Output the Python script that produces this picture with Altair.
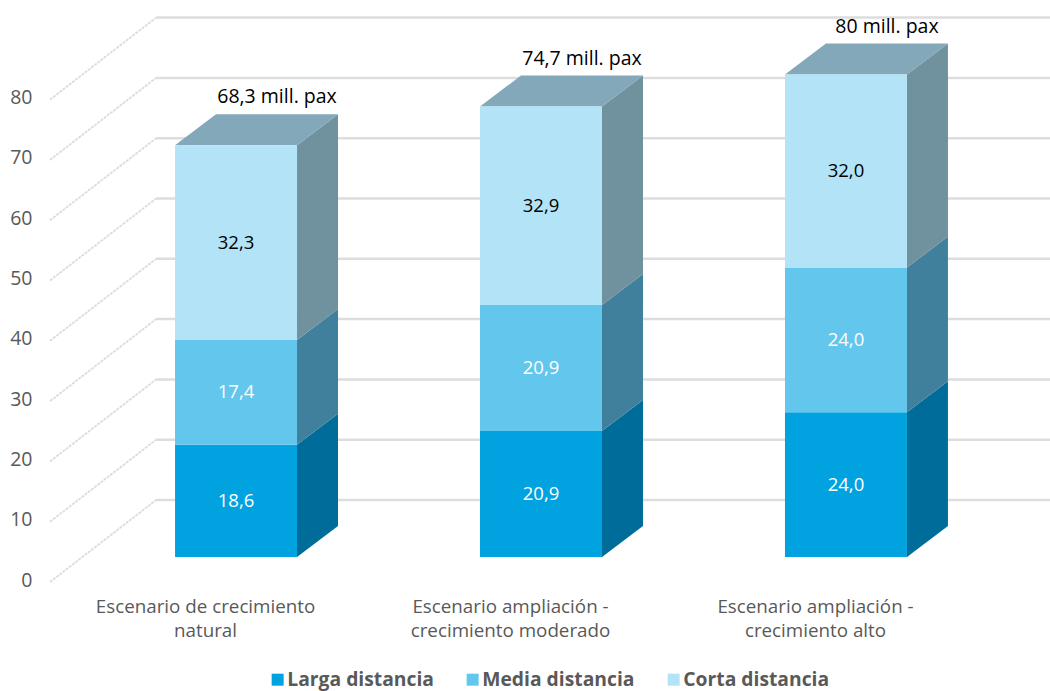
import json
import altair as alt
import pandas as pd

# Pasajeros por escenario (millones)
scenarios = [
    ["Escenario de crecimiento", "natural"],
    ["Escenario ampliación -", "crecimiento moderado"],
    ["Escenario ampliación -", "crecimiento alto"],
]
segments = ["Larga distancia", "Media distancia", "Corta distancia"]
larga = [18.6, 20.9, 24.0]
media = [17.4, 20.9, 24.0]
corta = [32.3, 32.9, 32.0]
total_labels = ["68,3 mill. pax", "74,7 mill. pax", "80 mill. pax"]
y_ticks = [0, 10, 20, 30, 40, 50, 60, 70, 80]

front_colors = ["#00a3df", "#63c6ec", "#b2e3f7"]
side_colors = ["#006c99", "#40809d", "#6f929e"]
top_color = "#82a8b9"
text_colors = ["#ffffff", "#ffffff", "#000000"]
FONT = "Open Sans"
GREY = "#595959"

# Pseudo-3D geometry, in data units
HALF = 0.2          # half a bar's width
DX = 0.1344         # bar depth along x
DY = 5.14           # bar depth along y
WALL_X = -0.262     # x of the back wall
WALL_Y = 9.45       # rise of the floor line at the back wall
EDGE_Y = -4.15      # drop of the floor line at the front edge
X_MIN, X_MAX = -0.61, 2.669
Y_MIN, Y_MAX = -7.13, 92.37

x_scale = alt.Scale(domain=[X_MIN, X_MAX], nice=False, zero=False)
y_scale = alt.Scale(domain=[Y_MIN, Y_MAX], nice=False, zero=False)
X = lambda f: alt.X(f, type="quantitative", scale=x_scale, title=None)
Y = lambda f: alt.Y(f, type="quantitative", scale=y_scale, title=None)

fronts, sides, tops, labels, totals = [], [], [], [], []
for i in range(3):
    base = 0.0
    for seg, vals in zip(segments, [larga, media, corta]):
        v = vals[i]
        fronts.append(dict(s=i, seg=seg, x0=i - HALF, x1=i + HALF, y0=base, y1=base + v))
        sides.append(dict(s=i, seg=seg, x=i + HALF, lo=base, hi=base + v))
        sides.append(dict(s=i, seg=seg, x=i + HALF + DX, lo=base + DY, hi=base + v + DY))
        labels.append(dict(seg=seg, x=i, y=base + v / 2, t=f"{v:.1f}".replace(".", ",")))
        base += v
    tops.append(dict(s=i, y=base, x0=i - HALF, x1=i + HALF))
    tops.append(dict(s=i, y=base + DY, x0=i - HALF + DX, x1=i + HALF + DX))
    totals.append(dict(x=i + DX, y=base + DY + 2.8, t=total_labels[i]))

grid = pd.DataFrame(
    [dict(v=t, back=t + WALL_Y, edge=t + EDGE_Y, x0=X_MIN, xw=WALL_X, x1=X_MAX) for t in y_ticks]
)

axis_layer = (
    alt.Chart(pd.DataFrame({"x": [0, 1, 2], "y": [0, 0, 0]}))
    .mark_point(opacity=0)
    .encode(
        x=alt.X(
            "x:Q",
            scale=x_scale,
            title=None,
            axis=alt.Axis(
                values=[0, 1, 2],
                grid=False,
                domain=False,
                ticks=False,
                labelExpr=f"{json.dumps(scenarios, ensure_ascii=False)}[datum.value]",
                labelFont=FONT,
                labelFontSize=18.8,
                labelColor=GREY,
                labelOffset=-31,
                labelPadding=-3,
                labelLineHeight=24,
                labelLimit=0,
                labelFlush=False,
                labelOverlap=False,
            ),
        ),
        y=alt.Y(
            "y:Q",
            scale=y_scale,
            title=None,
            axis=alt.Axis(
                values=y_ticks,
                grid=False,
                domain=False,
                ticks=False,
                labelFont=FONT,
                labelFontSize=19.5,
                labelColor=GREY,
                labelOffset=23,
                labelPadding=18,
            ),
        ),
    )
)

wall_lines = (
    alt.Chart(grid)
    .mark_rule(color="#dddddd", strokeWidth=2.5)
    .encode(x=X("xw"), x2="x1:Q", y=Y("back"))
)
floor_lines = (
    alt.Chart(grid)
    .mark_rule(color="#dcdcdc", strokeWidth=1.8, strokeDash=[3, 1])
    .encode(x=X("x0"), x2="xw:Q", y=Y("edge"), y2="back:Q")
)

side_df = pd.DataFrame(sides)
side_layers = [
    alt.Chart(side_df[side_df.seg == seg])
    .mark_area(color=col, opacity=1)
    .encode(x=X("x"), y=Y("lo"), y2="hi:Q", detail="s:N")
    for seg, col in zip(segments, side_colors)
]

top_layer = (
    alt.Chart(pd.DataFrame(tops))
    .mark_area(color=top_color, opacity=1, orient="horizontal")
    .encode(y=Y("y"), x=X("x0"), x2="x1:Q", detail="s:N")
)

front_layer = (
    alt.Chart(pd.DataFrame(fronts))
    .mark_rect()
    .encode(
        x=X("x0"),
        x2="x1:Q",
        y=Y("y0"),
        y2="y1:Q",
        color=alt.Color(
            "seg:N",
            scale=alt.Scale(domain=segments, range=front_colors),
            legend=alt.Legend(
                orient="none",
                legendX=218,
                legendY=670,
                direction="horizontal",
                title=None,
                symbolType="square",
                symbolSize=144,
                symbolStrokeWidth=0,
                labelFont=FONT,
                labelFontWeight="bold",
                labelFontSize=19.3,
                labelColor=GREY,
                labelOffset=0,
                labelLimit=0,
                columnPadding=29,
            ),
        ),
    )
)

label_df = pd.DataFrame(labels)
value_layers = [
    alt.Chart(label_df[label_df.seg == seg])
    .mark_text(font=FONT, fontSize=18.5, color=col)
    .encode(x=X("x"), y=Y("y"), text="t:N")
    for seg, col in zip(segments, text_colors)
]

total_layer = (
    alt.Chart(pd.DataFrame(totals))
    .mark_text(font=FONT, fontSize=19.5, color="#000000")
    .encode(x=X("x"), y=Y("y"), text="t:N")
)

chart = (
    alt.layer(
        axis_layer,
        wall_lines,
        floor_lines,
        *side_layers,
        top_layer,
        front_layer,
        *value_layers,
        total_layer,
    )
    .properties(
        width=1000,
        height=600,
        background="#ffffff",
        padding={"left": 50, "top": 0, "right": 0, "bottom": 91},
        autosize=alt.AutoSizeParams(type="none"),
    )
    .configure_view(strokeWidth=0)
)

chart.save("out.html", embed_options={"renderer": "svg", "actions": False})
